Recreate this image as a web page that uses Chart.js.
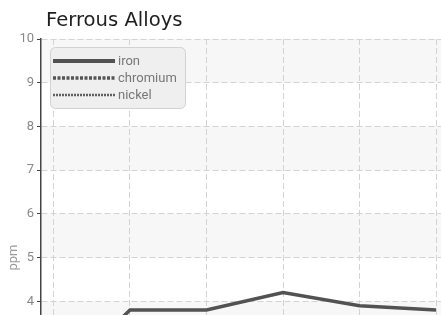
<!DOCTYPE html>
<html>
<head>
<meta charset="utf-8">
<script src="https://cdn.jsdelivr.net/npm/chart.js@4.4.1/dist/chart.umd.min.js"></script>
<style>
body { margin: 0; background: #fff; }
#wrap { width: 441px; height: 315px; overflow: hidden; }
</style>
</head>
<body>
<div id="wrap"><canvas id="alloys" width="441" height="487"></canvas></div>
<script>
// sample index on x, ppm on y
const samples = [1, 2, 3, 4, 5, 6];
const ironValues = [2.1, 3.8, 3.8, 4.2, 3.9, 3.8];
const chromiumValues = [1.4, 1.6, 1.5, 1.9, 1.7, 1.6];
const nickelValues = [0.6, 0.8, 0.7, 1.0, 0.9, 0.8];
const seriesNames = ['iron', 'chromium', 'nickel'];

const pts = (vals) => samples.map((s, i) => ({x: s, y: vals[i]}));

// light bands between every other whole ppm value
const bands = {
	id: 'bands',
	beforeDraw(chart) {
		const {ctx, chartArea: a, scales: {y}} = chart;
		ctx.save();
		ctx.fillStyle = '#f7f7f7';
		for (let v = 1; v < 10; v += 2) {
			const top = y.getPixelForValue(v + 1);
			const bottom = y.getPixelForValue(v);
			ctx.fillRect(a.left, top, a.right - a.left, bottom - top);
		}
		ctx.restore();
	}
};

// legend in a rounded box inside the plot
const boxLegend = {
	id: 'boxLegend',
	afterDatasetsDraw(chart) {
		const {ctx, chartArea: a} = chart;
		const x = a.left + 9, y = a.top + 8;
		ctx.save();
		ctx.beginPath();
		ctx.roundRect(x + 0.5, y + 0.5, 135, 61, 5);
		ctx.fillStyle = '#efefef';
		ctx.fill();
		ctx.strokeStyle = '#d2d2d2';
		ctx.lineWidth = 1;
		ctx.stroke();
		ctx.font = '13px Roboto';
		ctx.textBaseline = 'middle';
		chart.data.datasets.forEach((ds, i) => {
			const ry = y + 14 + i * 17;
			ctx.beginPath();
			ctx.setLineDash(ds.borderDash || []);
			ctx.lineWidth = ds.borderWidth + 0.5;
			ctx.strokeStyle = ds.borderColor;
			ctx.moveTo(x + 3, ry);
			ctx.lineTo(x + 65, ry);
			ctx.stroke();
			ctx.fillStyle = '#777';
			ctx.fillText(ds.label, x + 68, ry + 0.5);
		});
		ctx.restore();
	}
};

const plotTitle = {
	id: 'plotTitle',
	afterDraw(chart) {
		const ctx = chart.ctx;
		ctx.save();
		ctx.font = '19.6px "DejaVu Sans"';
		ctx.fillStyle = '#1e1e1e';
		ctx.textBaseline = 'alphabetic';
		ctx.fillText('Ferrous Alloys', chart.chartArea.left + 5, 25.5);
		ctx.restore();
	}
};

Chart.defaults.font.family = 'Roboto';
Chart.defaults.font.size = 13;

const ctx = document.getElementById('alloys').getContext('2d');
const chart = new Chart(ctx, {
	type: 'line',
	data: {
		datasets: [{
			label: seriesNames[0],
			data: pts(ironValues),
			borderColor: '#525252',
			borderWidth: 3.5,
		}, {
			label: seriesNames[1],
			data: pts(chromiumValues),
			borderColor: '#555555',
			borderWidth: 3,
			borderDash: [3, 1.5],
		}, {
			label: seriesNames[2],
			data: pts(nickelValues),
			borderColor: '#606060',
			borderWidth: 2,
			borderDash: [2, 1],
		}]
	},
	options: {
		responsive: false,
		animation: false,
		layout: {
			padding: {top: 39, left: 0, right: 0, bottom: 8}
		},
		elements: {
			point: {radius: 0, hoverRadius: 0},
			line: {tension: 0}
		},
		plugins: {
			legend: {display: false},
			tooltip: {enabled: false}
		},
		scales: {
			x: {
				type: 'linear',
				min: 0.837,
				max: 6.065,
				ticks: {
					display: false,
					stepSize: 1,
					includeBounds: false
				},
				grid: {
					color: '#d3d3d3',
					drawTicks: false
				},
				border: {display: false, dash: [6, 3]}
			},
			y: {
				min: 0,
				max: 10,
				afterFit(s) { s.width = 41; },
				ticks: {
					stepSize: 1,
					color: '#888',
					padding: 3
				},
				title: {
					display: true,
					text: 'ppm',
					color: '#999',
					padding: {top: 6, bottom: 4}
				},
				grid: {
					color: '#d3d3d3',
					tickColor: '#444',
					tickLength: 4,
					tickBorderDash: []
				},
				border: {color: '#444', width: 1.5, dash: [6, 3]}
			}
		}
	},
	plugins: [bands, boxLegend, plotTitle]
});
</script>
</body>
</html>
